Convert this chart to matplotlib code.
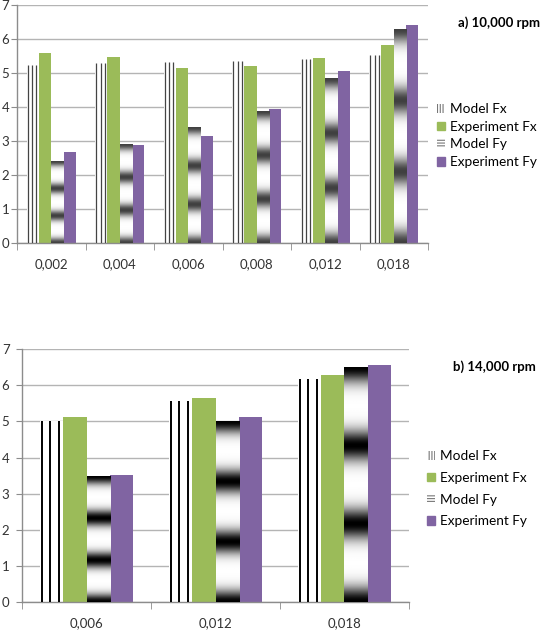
import matplotlib
matplotlib.use('Agg')
import matplotlib.pyplot as plt
import numpy as np
from matplotlib.patches import Patch
from matplotlib.ticker import FixedLocator

plt.rcParams['font.family'] = ['Lato', 'DejaVu Sans']
plt.rcParams['hatch.linewidth'] = 0.8

series = ['Model Fx', 'Experiment Fx', 'Model Fy', 'Experiment Fy']

cats_a = ['0,002', '0,004', '0,006', '0,008', '0,012', '0,018']
model_fx_a = [5.23, 5.28, 5.33, 5.35, 5.42, 5.53]
exp_fx_a = [5.60, 5.48, 5.14, 5.22, 5.44, 5.83]
model_fy_a = [2.41, 2.90, 3.39, 3.86, 4.83, 6.27]
exp_fy_a = [2.68, 2.88, 3.16, 3.93, 5.05, 6.41]

cats_b = ['0,006', '0,012', '0,018']
model_fx_b = [5.00, 5.57, 6.16]
exp_fx_b = [5.11, 5.64, 6.27]
model_fy_b = [3.47, 4.99, 6.49]
exp_fy_b = [3.52, 5.11, 6.57]

yticks = [0, 1, 2, 3, 4, 5, 6, 7]

GREEN = '#9BBB59'
PURPLE = '#8064A2'
GRID = '#B4B4B4'
AXC = '#8C8C8C'
TXT = '#333333'


def draw(ax, cats, vals, dark, line_color, lw, ypad):
    n = len(cats)
    x = np.arange(n)
    w = 0.18
    b_mfx = ax.bar(x - 1.5 * w, vals[0], w, color='white', zorder=2)
    ax.bar(x - 0.5 * w, vals[1], w, color=GREEN, zorder=2)
    b_mfy = ax.bar(x + 0.5 * w, vals[2], w, color='white', zorder=2)
    ax.bar(x + 1.5 * w, vals[3], w, color=PURPLE, zorder=2)
    for p in b_mfx:
        x0, ww, h = p.get_x(), p.get_width(), p.get_height()
        ax.vlines([x0 + ww * f for f in (0.08, 0.44, 0.80)], 0, h,
                  color=line_color, lw=lw, zorder=3)
    t = np.linspace(0, 1, 600)
    centers = np.array([0, 1 / 3, 2 / 3, 1])
    d = np.min(np.abs(t[:, None] - centers[None, :]), axis=1)
    prof = 1 - (1 - dark) * np.exp(-(d / 0.065) ** 2)
    for p in b_mfy:
        x0, ww, h = p.get_x(), p.get_width(), p.get_height()
        ax.imshow(prof[:, None], extent=[x0, x0 + ww, 0, h], origin='lower',
                  aspect='auto', cmap='gray', vmin=0, vmax=1, zorder=3,
                  interpolation='bilinear')
    ax.set_xlim(-0.5, n - 0.5)
    ax.set_ylim(0, 7)
    ax.set_yticks(yticks)
    ax.set_xticks(x)
    ax.set_xticklabels(cats)
    ax.xaxis.set_minor_locator(FixedLocator(np.arange(n + 1) - 0.5))
    ax.tick_params(axis='x', which='major', length=0, pad=11, labelsize=9.5,
                   labelcolor=TXT)
    ax.tick_params(axis='x', which='minor', length=5, color=AXC, direction='out')
    ax.tick_params(axis='y', length=4, color=AXC, labelsize=9.5, labelcolor=TXT,
                   pad=ypad)
    ax.grid(axis='y', color=GRID, lw=1, zorder=0)
    ax.set_axisbelow(True)
    for s in ('top', 'right'):
        ax.spines[s].set_visible(False)
    for s in ('left', 'bottom'):
        ax.spines[s].set_color(AXC)
        ax.spines[s].set_linewidth(1)


def legend_handles():
    return [Patch(facecolor='white', edgecolor='#777777', hatch='||||||', lw=0),
            Patch(facecolor=GREEN, edgecolor=GREEN),
            Patch(facecolor='white', edgecolor='#777777', hatch='------', lw=0),
            Patch(facecolor=PURPLE, edgecolor=PURPLE)]


fig = plt.figure(figsize=(5.44, 6.42), dpi=100)
W, H = 544, 642

ax1 = fig.add_axes([17 / W, 1 - 243 / H, (428 - 17) / W, (243 - 5) / H])
draw(ax1, cats_a, [model_fx_a, exp_fx_a, model_fy_a, exp_fy_a], 0.25, '#444444', 0.9, 1.5)
ax2 = fig.add_axes([22 / W, 1 - 602.3 / H, (409 - 22) / W, (602.3 - 349) / H])
draw(ax2, cats_b, [model_fx_b, exp_fx_b, model_fy_b, exp_fy_b], 0.0, 'black', 1.4, 5)

fig.text(540 / W, 1 - 23 / H, 'a) 10,000 rpm', ha='right', va='center',
         fontsize=9.5, fontweight='bold', color='black')
fig.text(536 / W, 1 - 367 / H, 'b) 14,000 rpm', ha='right', va='center',
         fontsize=9.5, fontweight='bold', color='black')

fig.legend(legend_handles(), series, loc='upper left',
           bbox_to_anchor=(437 / W, 1 - 103 / H), frameon=False, fontsize=9.8,
           handlelength=0.6, handleheight=0.6, handletextpad=0.35,
           labelspacing=0.42, borderaxespad=0, borderpad=0)
fig.legend(legend_handles(), series, loc='upper left',
           bbox_to_anchor=(427 / W, 1 - 450 / H), frameon=False, fontsize=9.8,
           handlelength=0.6, handleheight=0.6, handletextpad=0.35,
           labelspacing=0.72, borderaxespad=0, borderpad=0)

fig.savefig('out.png', dpi=100)
